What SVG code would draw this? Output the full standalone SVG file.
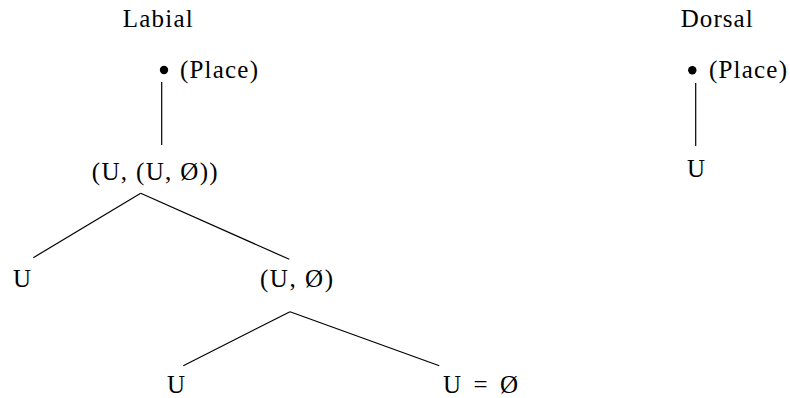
<svg xmlns="http://www.w3.org/2000/svg" width="790" height="398" viewBox="0 0 790 398">
<style>
text{font-family:"Liberation Serif","DejaVu Serif",serif;font-size:25px;fill:#000}
.e{stroke:#000;stroke-width:1.2;fill:none}
</style>
<rect width="790" height="398" fill="#fff"/>
<g id="connectors">
<line class="e" x1="161.7" y1="82" x2="161.7" y2="145"/>
<line class="e" x1="140.7" y1="193.3" x2="33.3" y2="257.7"/>
<line class="e" x1="140.7" y1="193.3" x2="289.3" y2="259.3"/>
<line class="e" x1="290" y1="311.7" x2="183.3" y2="365.7"/>
<line class="e" x1="290" y1="311.7" x2="439.3" y2="365.7"/>
<line class="e" x1="695.7" y1="83" x2="695.7" y2="146"/>
</g>
<g id="labial-title"><text x="122.7" y="27" textLength="70" lengthAdjust="spacing">Labial</text></g>
<g id="labial-place"><circle cx="164" cy="70" r="4.2"/><text x="180" y="78" textLength="78" lengthAdjust="spacing">(Place)</text></g>
<g id="labial-uuo"><text x="91.7" y="180" textLength="126" lengthAdjust="spacing">(U, (U, Ø))</text></g>
<g id="labial-u1"><text x="13" y="287">U</text></g>
<g id="labial-uo"><text x="260" y="287" textLength="73" lengthAdjust="spacing">(U, Ø)</text></g>
<g id="labial-u2"><text x="167" y="393">U</text></g>
<g id="labial-ueqo"><text x="443" y="393" textLength="75" lengthAdjust="spacing">U = Ø</text></g>
<g id="dorsal-title"><text x="680.7" y="27" textLength="72" lengthAdjust="spacing">Dorsal</text></g>
<g id="dorsal-place"><circle cx="692.3" cy="70.3" r="4.2"/><text x="709" y="78" textLength="78" lengthAdjust="spacing">(Place)</text></g>
<g id="dorsal-u"><text x="687" y="177">U</text></g>
</svg>
